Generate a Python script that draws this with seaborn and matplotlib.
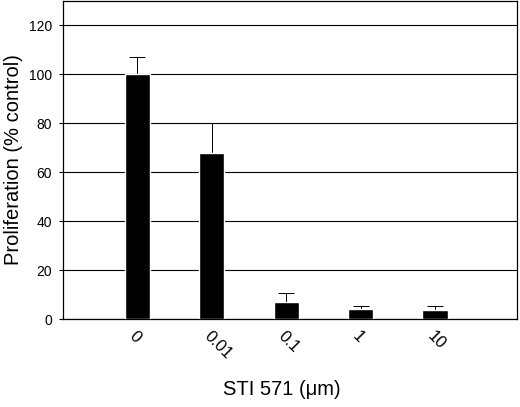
import numpy as np
import pandas as pd
import matplotlib
matplotlib.use("Agg")
import matplotlib.pyplot as plt
import seaborn as sns

# values
doses = ["0", "0.01", "0.1", "1", "10"]
proliferation = [100, 67.7, 7.1, 4.0, 3.6]
err_upper = [7.0, 12.3, 3.4, 1.5, 1.9]

sns.set_style("white")
plt.rcParams["font.family"] = ["Liberation Sans", "DejaVu Sans"]
plt.rcParams["text.color"] = "black"
plt.rcParams["axes.labelcolor"] = "black"
plt.rcParams["xtick.color"] = "black"
plt.rcParams["ytick.color"] = "black"

df = pd.DataFrame({"dose": doses, "prolif": proliferation})

fig = plt.figure(figsize=(5.2, 4.07), dpi=100)
ax = fig.add_axes([0.121, 0.216, 0.873, 0.7815])

sns.barplot(data=df, x="dose", y="prolif", color="black", width=0.34,
            saturation=1, errorbar=None, ax=ax, zorder=3)

# upper error bars only
pos = np.arange(len(doses))
ax.errorbar(pos, proliferation, yerr=[np.zeros(len(doses)), err_upper],
            fmt="none", ecolor="black", elinewidth=0.7, capsize=5.5,
            capthick=0.7, zorder=2)

ax.set_ylim(0, 130)
ax.set_xlim(-1.0, 5.1)
ax.set_yticks(range(0, 121, 20))
ax.yaxis.grid(True, color="black", linewidth=0.8)
ax.set_axisbelow(True)

for s in ax.spines.values():
    s.set_color("black")
    s.set_linewidth(0.9)

ax.tick_params(axis="y", left=True, length=3, width=0.8, labelsize=10, pad=5)
ax.tick_params(axis="x", bottom=False, labelsize=12, pad=3)
plt.setp(ax.get_xticklabels(), rotation=-45, ha="left", va="top",
         rotation_mode="anchor")

ax.set_xlabel("STI 571 (\u03bcm)", fontsize=14.5)
ax.xaxis.set_label_coords(0.482, -0.19)
ax.set_ylabel("Proliferation (% control)", fontsize=14.5, labelpad=4)

fig.savefig("out.png", dpi=100)
